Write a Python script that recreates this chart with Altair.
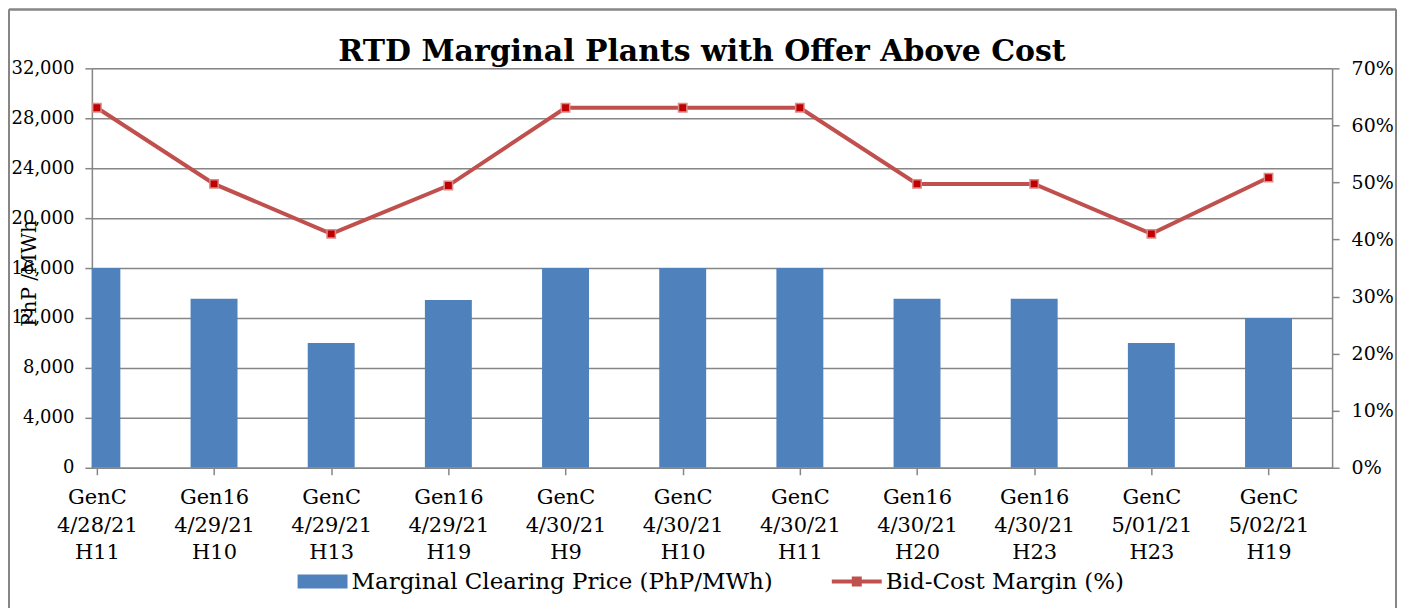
import json
import altair as alt
import pandas as pd

plants = ["GenC", "Gen16", "GenC", "Gen16", "GenC", "GenC", "GenC", "Gen16", "Gen16", "GenC", "GenC"]
dates = ["4/28/21", "4/29/21", "4/29/21", "4/29/21", "4/30/21", "4/30/21", "4/30/21", "4/30/21", "4/30/21", "5/01/21", "5/02/21"]
hours = ["H11", "H10", "H13", "H19", "H9", "H10", "H11", "H20", "H23", "H23", "H19"]
price = [16000, 13550, 10000, 13450, 16000, 16000, 16000, 13550, 13550, 10000, 12000]
margin = [0.631, 0.4975, 0.41, 0.4946, 0.631, 0.631, 0.631, 0.4975, 0.4975, 0.41, 0.5086]
series_names = ["Marginal Clearing Price (PhP/MWh)", "Bid-Cost Margin (%)"]
series_colors = ["#4F81BD", "#C0504D"]

FONT = "DejaVu Serif"
GREY = "#868686"

df = pd.DataFrame({"idx": list(range(len(plants))), "price": price, "margin": margin})
legend_df = pd.DataFrame({"series": series_names})

label_arr = json.dumps([[p, d, h] for p, d, h in zip(plants, dates, hours)])

x_scale = alt.Scale(domain=[0, len(plants) - 0.5], nice=False, zero=False)
x_axis = alt.Axis(
    values=list(range(len(plants))), labelExpr=f"{label_arr}[datum.value]",
    grid=False, labelOverlap=False, labelFlush=False, title=None,
    domainColor=GREY, domainWidth=1.5, tickColor=GREY, tickWidth=1.5, tickSize=7,
    labelPadding=12, labelFontSize=21, labelLineHeight=27.5, labelFont=FONT,
    labelColor="black", labelBaseline="top",
)

bars = alt.Chart(df).mark_bar(size=47, color=series_colors[0], clip=True, orient="vertical").encode(
    x=alt.X("idx:Q", scale=x_scale, axis=x_axis),
    y=alt.Y("price:Q", scale=alt.Scale(domain=[0, 32000], nice=False),
            axis=alt.Axis(values=list(range(0, 32001, 4000)), format=",.0f", grid=True,
                          gridColor=GREY, gridWidth=1.5, domainColor=GREY, domainWidth=1.5,
                          tickColor=GREY, tickWidth=1.5, tickSize=7, labelPadding=11,
                          labelFontSize=18, labelFont=FONT, labelColor="black",
                          title="PhP /MWh", titleFont=FONT, titleFontSize=20,
                          titleFontWeight="normal", titleColor="black",
                          titleX=-56, titleY=205, titleAngle=270,
                          titleAlign="center", titleBaseline="alphabetic")),
)

right_axis = alt.Axis(orient="right", values=[i / 10 for i in range(8)], format=".0%",
                      grid=False, domainColor=GREY, domainWidth=1.5, tickColor=GREY,
                      tickWidth=1.5, tickSize=7, labelPadding=12, labelFontSize=19,
                      labelFont=FONT, labelColor="black", title=None)
y2_scale = alt.Scale(domain=[0, 0.7], nice=False)

line = alt.Chart(df).mark_line(color=series_colors[1], strokeWidth=4).encode(
    x=alt.X("idx:Q", scale=x_scale, axis=x_axis),
    y=alt.Y("margin:Q", scale=y2_scale, axis=right_axis),
)
markers = alt.Chart(df).mark_square(size=70, color="#C00000", stroke="#D98B89",
                                    strokeWidth=1.5, opacity=1).encode(
    x=alt.X("idx:Q", scale=x_scale, axis=x_axis),
    y=alt.Y("margin:Q", scale=y2_scale, axis=right_axis),
)
line_layer = alt.layer(line, markers)

bar_path = "M-1,-0.28H1V0.28H-1Z"
line_path = "M-1,-0.08H1V0.08H-1Z M-0.2,-0.2H0.2V0.2H-0.2Z"
leg = alt.Legend(title=None, orient="none", legendX=206, legendY=489, direction="horizontal",
                 symbolSize=2500, symbolStrokeWidth=0, labelFont=FONT, labelFontSize=23,
                 labelColor="black", labelLimit=1000, labelOffset=4, columnPadding=58)
legend_pts = alt.Chart(legend_df).mark_point(filled=True, size=0, opacity=1).encode(
    x=alt.value(0), y=alt.value(0),
    color=alt.Color("series:N", scale=alt.Scale(domain=series_names, range=series_colors), legend=leg),
    shape=alt.Shape("series:N", scale=alt.Scale(domain=series_names, range=[bar_path, line_path]), legend=leg),
)

border_left = alt.Chart(legend_df).mark_rule(color=GREY, strokeWidth=2, clip=False).encode(
    x=alt.value(-83), y=alt.value(-59), y2=alt.value(545))
border_right = alt.Chart(legend_df).mark_rule(color=GREY, strokeWidth=2, clip=False).encode(
    x=alt.value(1306), y=alt.value(-59), y2=alt.value(545))
border_top = alt.Chart(legend_df).mark_rule(color=GREY, strokeWidth=2, clip=False).encode(
    x=alt.value(-83), x2=alt.value(1306), y=alt.value(-59))

chart = alt.layer(bars, line_layer, legend_pts, border_left, border_right, border_top).resolve_scale(
    y="independent"
).properties(
    width=1242, height=400,
    padding={"left": 84, "top": 60, "right": 65, "bottom": 140},
    autosize=alt.AutoSizeParams(type="none"),
    title=alt.TitleParams("RTD Marginal Plants with Offer Above Cost", font=FONT, fontSize=30,
                          fontWeight="bold", color="black", anchor="middle", offset=2,
                          dx=-10, dy=61),
).configure_view(stroke="transparent").configure(font=FONT)

chart.save("out.html", embed_options={"renderer": "svg", "actions": False})
